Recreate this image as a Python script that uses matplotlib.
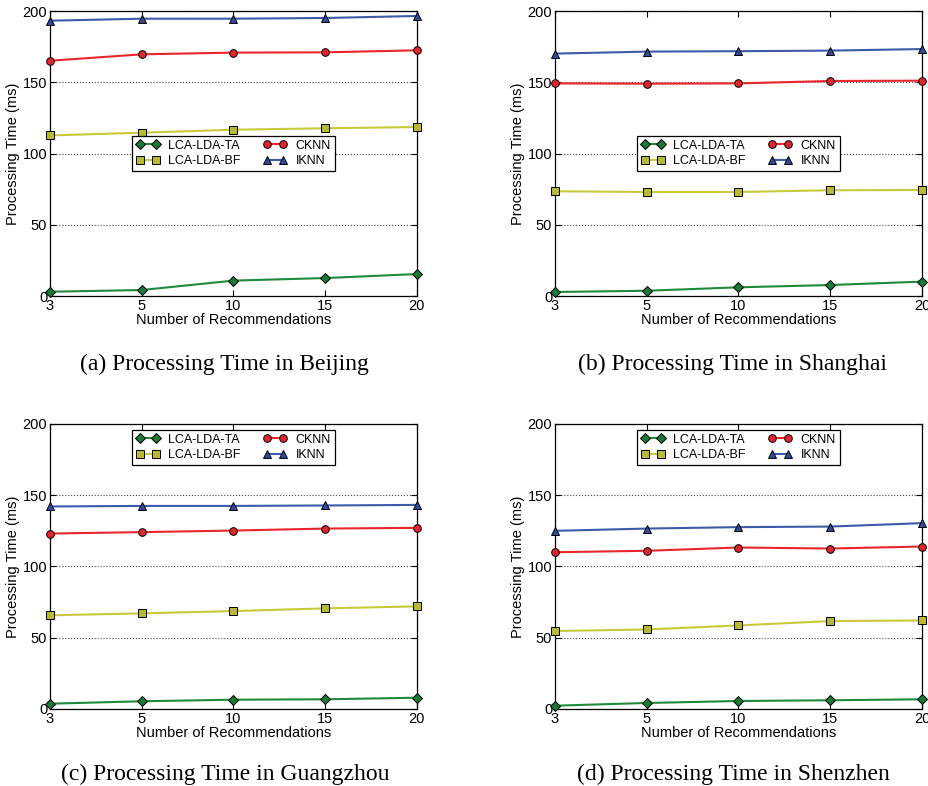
import matplotlib
matplotlib.use("Agg")
import matplotlib.pyplot as plt
import numpy as np

recs = ["3", "5", "10", "15", "20"]
series_names = ["LCA-LDA-TA", "LCA-LDA-BF", "CKNN", "IKNN"]

beijing_ta = [3.0, 4.2, 10.8, 12.6, 15.4]
beijing_bf = [112.7, 114.6, 116.7, 117.7, 118.6]
beijing_cknn = [165.1, 169.6, 170.8, 171.0, 172.4]
beijing_iknn = [193.2, 194.6, 194.6, 195.1, 196.5]

shanghai_ta = [2.8, 3.7, 6.1, 7.7, 10.1]
shanghai_bf = [73.5, 73.0, 73.0, 74.2, 74.4]
shanghai_cknn = [149.2, 149.0, 149.2, 150.9, 151.1]
shanghai_iknn = [170.1, 171.5, 171.8, 172.2, 173.3]

guangzhou_ta = [3.7, 5.4, 6.5, 6.8, 7.9]
guangzhou_bf = [65.7, 67.1, 68.7, 70.6, 72.0]
guangzhou_cknn = [123.1, 124.1, 125.2, 126.6, 127.1]
guangzhou_iknn = [142.1, 142.5, 142.5, 142.8, 143.2]

shenzhen_ta = [2.3, 4.2, 5.6, 6.1, 6.8]
shenzhen_bf = [54.7, 55.8, 58.6, 61.7, 62.1]
shenzhen_cknn = [110.0, 111.0, 113.3, 112.6, 114.0]
shenzhen_iknn = [125.0, 126.6, 127.6, 128.0, 130.4]

captions = ["(a) Processing Time in Beijing", "(b) Processing Time in Shanghai",
            "(c) Processing Time in Guangzhou", "(d) Processing Time in Shenzhen"]

panels = [
    [beijing_ta, beijing_bf, beijing_cknn, beijing_iknn],
    [shanghai_ta, shanghai_bf, shanghai_cknn, shanghai_iknn],
    [guangzhou_ta, guangzhou_bf, guangzhou_cknn, guangzhou_iknn],
    [shenzhen_ta, shenzhen_bf, shenzhen_cknn, shenzhen_iknn],
]

# line color, marker, marker face
styles = [("#1f8a3c", "D", "#1a7a35"),
          ("#c9c93a", "s", "#b9b935"),
          ("#e8262c", "o", "#e0262c"),
          ("#3c5aa8", "^", "#2f4c9a")]

plt.rcParams["font.family"] = ["Liberation Sans", "DejaVu Sans"]

fig = plt.figure(figsize=(9.29, 7.86), dpi=100)

lefts = [0.0538, 0.5974, 0.0538, 0.5974]
bottoms = [0.6234, 0.6234, 0.098, 0.098]
legend_y = [0.561, 0.561, 0.979, 0.979]
cap_x = [0.242, 0.789, 0.242, 0.789]
cap_y = [0.536, 0.536, 0.0146, 0.0146]

x = np.arange(len(recs))

for i, data in enumerate(panels):
    ax = fig.add_axes([lefts[i], bottoms[i], 0.395, 0.3626])
    for name, vals, (lc, mk, fc) in zip(series_names, data, styles):
        ax.plot(x, vals, color=lc, linewidth=1.5, marker=mk, markersize=5.5,
                markerfacecolor=fc, markeredgecolor="black", markeredgewidth=0.7,
                label=name, clip_on=False, zorder=3)
    ax.set_xlim(0, 4)
    ax.set_ylim(0, 200)
    ax.set_xticks(x)
    ax.set_xticklabels(recs)
    ax.set_yticks([0, 50, 100, 150, 200])
    ax.yaxis.grid(True, linestyle=":", color="#444444", linewidth=0.8)
    ax.tick_params(direction="in", top=True, right=True, length=4, labelsize=10.5,
                   pad=2)
    for sp in ax.spines.values():
        sp.set_linewidth(0.9)
    ax.set_xlabel("Number of Recommendations", fontsize=10.5, labelpad=0)
    ax.set_ylabel("Processing Time (ms)", fontsize=10.5, labelpad=2)
    leg = ax.legend(ncol=2, loc="upper center", bbox_to_anchor=(0.5, legend_y[i]),
                    fontsize=9, numpoints=2, fancybox=False, framealpha=1,
                    edgecolor="black", handlelength=1.9, handletextpad=0.7,
                    columnspacing=1.8, borderpad=0.3, labelspacing=0.28,
                    borderaxespad=0)
    leg.get_frame().set_linewidth(0.9)
    fig.text(cap_x[i], cap_y[i], captions[i], ha="center", va="center",
             fontsize=17, family="Liberation Serif")

fig.savefig("out.png", dpi=100)
